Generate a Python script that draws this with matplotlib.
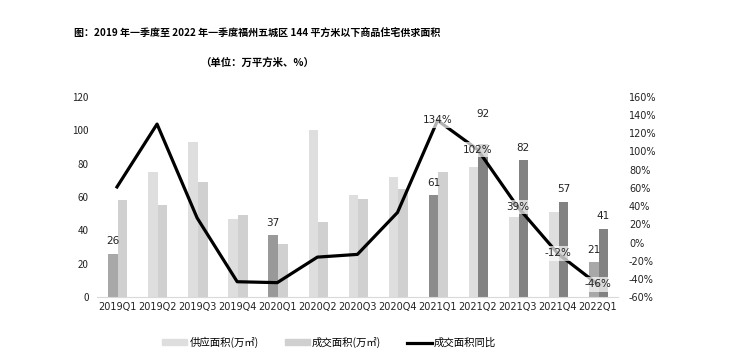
import numpy as np
import matplotlib
matplotlib.use('Agg')
import matplotlib.pyplot as plt

plt.rcParams['font.family'] = ['Noto Sans CJK SC', 'DejaVu Sans']

quarters = ['2019Q1', '2019Q2', '2019Q3', '2019Q4', '2020Q1', '2020Q2', '2020Q3',
            '2020Q4', '2021Q1', '2021Q2', '2021Q3', '2021Q4', '2022Q1']
# 供应面积 (万㎡)
supply = [26, 75, 93, 47, 37, 100, 61, 72, 61, 78, 48, 51, 21]
# 成交面积 (万㎡)
deal = [58, 55, 69, 49, 32, 45, 59, 65, 75, 92, 82, 57, 41]
# 成交面积同比 (%)
yoy = [61, 130, 27, -43, -44, -16, -13, 33, 134, 102, 39, -12, -46]

supply_labeled = [0, 4, 8, 12]
deal_labeled = [9, 10, 11, 12]
yoy_labeled = [8, 9, 10, 11, 12]

# 颜色：部分柱子在原图中被加深
supply_colors = ['#dedede'] * len(quarters)
deal_colors = ['#d0d0d0'] * len(quarters)
for i, c in zip(supply_labeled, ['#a8a8a8', '#999999', '#8c8c8c', '#a8a8a8']):
    supply_colors[i] = c
for i in deal_labeled:
    deal_colors[i] = '#828282'

fig = plt.figure(figsize=(7.4, 3.53), dpi=100)
ax = fig.add_axes([0.131, 0.158, 0.704, 0.568])
x = np.arange(len(quarters))
w = 0.24
ax.bar(x - w / 2 + 0.02, supply, width=w, color=supply_colors, zorder=2)
ax.bar(x + w / 2 + 0.02, deal, width=w, color=deal_colors, zorder=2)
ax.set_ylim(0, 120)
ax.set_yticks(range(0, 121, 20))
ax.set_xlim(-0.5, len(quarters) - 0.5)
ax.set_xticks(x)
ax.set_xticklabels(quarters, fontsize=7, family='DejaVu Sans')
ax.tick_params(axis='both', length=0, labelsize=7, colors='#222222')
ax.tick_params(axis='y', pad=6)
for s in ['top', 'right', 'left']:
    ax.spines[s].set_visible(False)
ax.spines['bottom'].set_color('#d9d9d9')

for i in supply_labeled:
    ax.annotate(f'{supply[i]}', (x[i] - w / 2 + 0.02, supply[i]), xytext=(0, 9),
                textcoords='offset points', ha='center', va='center',
                fontsize=7.5, family='DejaVu Sans', color='#222222')
for i in deal_labeled:
    off = 21 if i == 9 else 9
    ax.annotate(f'{deal[i]}', (x[i] + w / 2 + 0.02, deal[i]), xytext=(0, off),
                textcoords='offset points', ha='center', va='center',
                fontsize=7.5, family='DejaVu Sans', color='#222222')

ax2 = ax.twinx()
ax2.plot(x, yoy, color='black', linewidth=2.3, zorder=3)
ax2.set_ylim(-60, 160)
ax2.set_yticks(range(-60, 161, 20))
ax2.set_yticklabels([f'{v}%' for v in range(-60, 161, 20)], family='DejaVu Sans')
ax2.tick_params(axis='y', length=0, labelsize=7, colors='#222222', pad=8)
for s in ['top', 'right', 'left', 'bottom']:
    ax2.spines[s].set_visible(False)
for i in yoy_labeled:
    ax2.text(x[i], yoy[i], f'{yoy[i]}%', ha='center', va='center',
             fontsize=7.5, family='DejaVu Sans', color='#222222', zorder=4,
             bbox=dict(boxstyle='square,pad=0.2', fc='white', ec='none', alpha=0.7))

fig.text(0.347, 0.907, '图：2019 年一季度至 2022 年一季度福州五城区 144 平方米以下商品住宅供求面积',
         ha='center', va='center', fontsize=7.2, fontweight='bold')
fig.text(0.347, 0.824, '（单位：万平方米、%）', ha='center', va='center',
         fontsize=7.5, fontweight='bold')

handles = [plt.Rectangle((0, 0), 1, 1, color='#dedede'),
           plt.Rectangle((0, 0), 1, 1, color='#d0d0d0'),
           plt.Line2D([0], [0], color='black', linewidth=2.3)]
fig.legend(handles, ['供应面积(万㎡)', '成交面积(万㎡)', '成交面积同比'],
           loc='center', bbox_to_anchor=(0.445, 0.03), ncol=3, frameon=False,
           fontsize=7.5, handlelength=2.4, handleheight=0.5, columnspacing=2.5,
           handletextpad=0.2)

fig.savefig('out.png', dpi=100, facecolor='white')
